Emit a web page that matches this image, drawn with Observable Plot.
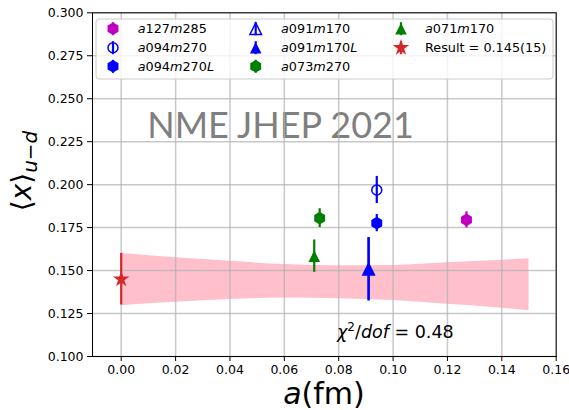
<!DOCTYPE html>
<html><head><meta charset="utf-8">
<script src="https://cdn.jsdelivr.net/npm/d3@7"></script>
<script src="https://cdn.jsdelivr.net/npm/@observablehq/plot@0.6"></script>
<style>html,body{margin:0;padding:0;background:#fff;} #chart{width:569px;height:410px;}</style>
</head><body><div id="chart"></div>
<script>
// ---- data ----
const ensembles = ["a127m285", "a094m270", "a094m270L", "a091m170", "a091m170L", "a073m270", "a071m170"];
const aValues   = [0.127, 0.094, 0.094, 0.091, 0.091, 0.073, 0.071];
const xMeans    = [0.1795, 0.1969, 0.1776, 0.1508, 0.1508, 0.1805, 0.1584];
const xErrors   = [0.0047, 0.0079, 0.0050, 0.0184, 0.0184, 0.0055, 0.0094];

const resultA = [0];
const resultValue = [0.145];
const resultError = [0.015];
const resultLabel = "Result = 0.145(15)";

const bandA    = [0, 0.02, 0.04, 0.06, 0.08, 0.10, 0.12, 0.14, 0.15];
const bandLow  = [0.1296, 0.1315, 0.1331, 0.1340, 0.1336, 0.1326, 0.1304, 0.1281, 0.1266];
const bandHigh = [0.1600, 0.1575, 0.1554, 0.1535, 0.1528, 0.1530, 0.1546, 0.1560, 0.1569];

const xTicks = [0, 0.02, 0.04, 0.06, 0.08, 0.10, 0.12, 0.14, 0.16];
const yTicks = [0.100, 0.125, 0.150, 0.175, 0.200, 0.225, 0.250, 0.275, 0.300];

const watermark = "NME JHEP 2021";
const chiValue = "0.48";

// ---- styles ----
const mplTriangle = {draw(ctx, size) { const s = Math.sqrt(size / Math.PI); ctx.moveTo(0, -s); ctx.lineTo(s, s); ctx.lineTo(-s, s); ctx.closePath(); }};
const mplHexagon = {draw(ctx, size) { const s = Math.sqrt(size / Math.PI); for (let k = 0; k < 6; k++) { const t = -Math.PI / 2 + k * Math.PI / 3; const px = s * Math.cos(t), py = s * Math.sin(t); if (k === 0) ctx.moveTo(px, py); else ctx.lineTo(px, py); } ctx.closePath(); }};
const mplCircle = d3.symbolCircle;
const styleOf = {
  a127m285:  {color: "#bf00bf", symbol: mplHexagon, r: 6.3, open: false},
  a094m270:  {color: "#0000ff", symbol: mplCircle, r: 5.0, open: true},
  a094m270L: {color: "#0000ff", symbol: mplHexagon, r: 6.3, open: false},
  a091m170:  {color: "#0000ff", symbol: mplTriangle, r: 5.8, open: true},
  a091m170L: {color: "#0000ff", symbol: mplTriangle, r: 5.8, open: false},
  a073m270:  {color: "#008000", symbol: mplHexagon, r: 6.3, open: false},
  a071m170:  {color: "#008000", symbol: mplTriangle, r: 5.8, open: false}
};
const resultStyle = {color: "#d62728", symbol: d3.symbolStar, r: 5.2, open: false};

const points = ensembles.map((name, i) => ({name, a: aValues[i], v: xMeans[i], e: xErrors[i], ...styleOf[name]}));
const result = resultA.map((a, i) => ({name: resultLabel, a, v: resultValue[i], e: resultError[i], ...resultStyle}));
const band = bandA.map((a, i) => ({a, low: bandLow[i], high: bandHigh[i]}));

function pointMarks(p) {
  return [
    Plot.ruleX([p], {x: "a", y1: d => d.v - d.e, y2: d => d.v + d.e, stroke: p.color, strokeWidth: 2.2}),
    Plot.dot([p], {x: "a", y: "v", symbol: p.symbol, r: p.r,
      fill: p.open ? "none" : p.color, stroke: p.color, strokeWidth: p.open ? 1.5 : 0})
  ];
}

const plot = Plot.plot({
  width: 569, height: 410,
  marginLeft: 92, marginRight: 13.3, marginTop: 12.3, marginBottom: 54,
  x: {domain: [-0.01056, 0.16]},
  y: {domain: [0.1, 0.3]},
  style: {fontFamily: "DejaVu Sans", fontSize: "12.5px", color: "#000", background: "#fff", overflow: "visible"},
  marks: [
    Plot.areaY(band, {x: "a", y1: "low", y2: "high", fill: "pink", curve: "monotone-x"}),
    Plot.text([watermark], {frameAnchor: "top-left", dx: 188, dy: 114, text: d => d, fill: "#7f7f7f",
      fontSize: 36, fontFamily: "Lato", textAnchor: "middle", lineAnchor: "middle"}),
    Plot.gridX(xTicks, {stroke: "#b0b0b0", strokeOpacity: 0.7, strokeWidth: 1.5}),
    Plot.gridY(yTicks, {stroke: "#b0b0b0", strokeOpacity: 0.7, strokeWidth: 1.5}),
    ...pointMarks(points[3]),
    ...points.filter((p, i) => i !== 3).flatMap(pointMarks),
    ...pointMarks(result[0]),
    Plot.frame({stroke: "#000", strokeWidth: 1}),
    Plot.axisX(xTicks, {tickSize: 5, tickPadding: 4, tickFormat: d => d.toFixed(2), label: null, stroke: "#000"}),
    Plot.axisY(yTicks, {tickSize: 5, tickPadding: 4, tickFormat: d => d.toFixed(3), label: null, stroke: "#000"})
  ]
});
document.getElementById("chart").appendChild(plot);

// ---- annotations / legend (layout) ----
const svg = d3.select(plot);
const ns = "DejaVu Sans";

function mathLabel(sel, parts) {
  parts.forEach(([t, it]) => sel.append("tspan").attr("font-style", it ? "italic" : "normal").text(t));
}

// chi^2/dof
{
  const t = svg.append("text").attr("x", 337).attr("y", 338).attr("text-anchor", "start").attr("font-family", ns).attr("font-size", 17.5).attr("fill", "#000");
  t.append("tspan").attr("font-style", "italic").text("χ");
  t.append("tspan").attr("font-size", 12).attr("dy", -7).text("2");
  t.append("tspan").attr("dy", 7).text("/");
  t.append("tspan").attr("font-style", "italic").text("dof");
  t.append("tspan").text(" = " + chiValue);
}

// x label
{
  const t = svg.append("text").attr("x", 324).attr("y", 404).attr("text-anchor", "middle").attr("font-family", ns).attr("font-size", 30).attr("fill", "#000");
  t.append("tspan").attr("font-style", "italic").text("a");
  t.append("tspan").text("(fm)");
}
// y label
{
  const t = svg.append("text").attr("transform", "translate(31,171) rotate(-90)").attr("text-anchor", "middle").attr("font-family", ns).attr("font-size", 28).attr("fill", "#000");
  t.append("tspan").text("⟨");
  t.append("tspan").attr("font-style", "italic").text("x");
  t.append("tspan").text("⟩");
  t.append("tspan").attr("font-size", 20).attr("dy", 6).attr("font-style", "italic").text("u");
  t.append("tspan").attr("font-size", 20).text("−");
  t.append("tspan").attr("font-size", 20).attr("font-style", "italic").text("d");
}

// legend
const legendEntries = [...points, result[0]];
const legendCols = [[0, 1, 2], [3, 4, 5], [6, 7]];
const colMarkerX = [113, 255.7, 401];
const colTextX = [137.7, 281, 425];
const rowY = [28.7, 47.7, 66.3];
const lg = svg.append("g");
lg.append("rect").attr("x", 96).attr("y", 19).attr("width", 457).attr("height", 60).attr("rx", 3)
  .attr("fill", "#fff").attr("fill-opacity", 0.8).attr("stroke", "#cccccc").attr("stroke-width", 1);
legendCols.forEach((col, ci) => col.forEach((idx, ri) => {
  const p = legendEntries[idx];
  const mx = colMarkerX[ci], my = rowY[ri];
  lg.append("line").attr("x1", mx).attr("x2", mx).attr("y1", my - 6.5).attr("y2", my + 6.5).attr("stroke", p.color).attr("stroke-width", 2.2);
  lg.append("path").attr("transform", `translate(${mx},${my})`)
    .attr("d", d3.symbol().type(p.symbol).size(Math.PI * p.r * p.r)())
    .attr("fill", p.open ? "none" : p.color).attr("stroke", p.color).attr("stroke-width", p.open ? 1.5 : 0);
  const t = lg.append("text").attr("x", colTextX[ci]).attr("y", my).attr("dy", "0.36em").attr("text-anchor", "start").attr("font-family", ns).attr("font-size", 12.8).attr("fill", "#000");
  if (p.name === resultLabel) { t.text(p.name); }
  else {
    const m = p.name.match(/^a(\d+)m(\d+)(L?)$/);
    const parts = [["a", true], [m[1], false], ["m", true], [m[2], false]];
    if (m[3]) parts.push(["L", true]);
    mathLabel(t, parts);
  }
}));
</script>
</body></html>
